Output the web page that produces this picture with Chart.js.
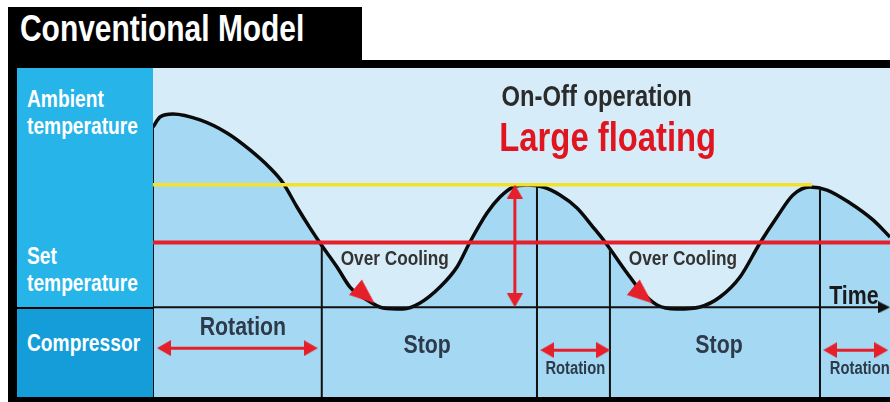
<!DOCTYPE html>
<html>
<head>
<meta charset="utf-8">
<script src="https://cdn.jsdelivr.net/npm/chart.js@4/dist/chart.umd.min.js"></script>
<style>
    html, body { margin: 0; padding: 0; background: #fff; }
    body { width: 890px; height: 402px; position: relative; overflow: hidden;
           font-family: "Liberation Sans", Arial, sans-serif; font-weight: bold; }
    .blk { position: absolute; background: #000; }
    .title { position: absolute; left: 20px; top: 11px; color: #fff; font-size: 36.5px; line-height: 36px;
             white-space: nowrap; transform: scaleX(0.82); transform-origin: left top; }
    .col { position: absolute; left: 17px; top: 68px; width: 136px; height: 329px; background: #27b4e9; }
    .col-comp { position: absolute; left: 17px; top: 307px; width: 136px; height: 90px; background: #149dd8; border-top: 2px solid #000; box-sizing: border-box; }
    .lbl { position: absolute; left: 27px; color: #fff; font-size: 24px; line-height: 27px; white-space: nowrap;
           transform: scaleX(0.8); transform-origin: left top; }
    #wrap { position: absolute; left: 153px; top: 68px; width: 737px; height: 329px; }
</style>
</head>
<body>
<div class="blk" style="left:8px;top:7px;width:354px;height:61px;"></div>
<div class="blk" style="left:8px;top:60px;width:882px;height:8px;"></div>
<div class="blk" style="left:8px;top:60px;width:9px;height:342px;"></div>
<div class="blk" style="left:8px;top:397px;width:882px;height:5px;"></div>
<div class="title">Conventional Model</div>
<div class="col"></div>
<div class="col-comp"></div>
<div class="lbl" style="top:85px;">Ambient<br>temperature</div>
<div class="lbl" style="top:242px;">Set<br>temperature</div>
<div class="lbl" style="top:329px;">Compressor</div>
<div id="wrap"><canvas id="chart"></canvas></div>
<script>
// ---------- Data ----------
// time (0..100) and room temperature
const timeX = [0, 0.95, 2.71, 6.38, 10.04, 13.16, 15.88, 17.64, 19.54, 21.30, 22.66, 24.97, 26.73, 29.04, 31.21, 33.92, 36.23, 38.94, 41.25, 43.01, 45.32, 47.08, 48.85, 50.75, 52.92, 55.22, 57.53, 59.70, 61.33, 64.32, 66.08, 68.39, 71.10, 74.22, 76.93, 79.65, 82.36, 84.67, 86.84, 89.14, 91.45, 94.57, 97.69, 100];
const temp = [18.07, 19.09, 19.39, 18.79, 17.48, 15.78, 13.97, 12.47, 10.06, 7.96, 6.45, 4.04, 2.03, 0.73, -0.07, -0.17, 0.43, 2.03, 4.04, 6.55, 9.46, 11.06, 12.06, 12.26, 12.06, 11.26, 9.96, 8.05, 6.55, 3.44, 1.74, 0.23, -0.17, 0.03, 1.03, 3.04, 6.45, 9.06, 11.26, 12.06, 11.76, 10.46, 8.76, 7.05];

const setTemp = 6.5;          // red line
const upperTemp = 12.3;       // yellow line (peak of floating)
const upperEnd = 89.4;
const rowBottom = -9;         // bottom of compressor row

// vertical dividers: [time, top temp]
const dividerX = [0, 22.9, 52.1, 62.0, 90.5];
const dividerTop = [18.07, 6.5, 12.1, 6.0, 11.8];

// compressor "Rotation" spans (double arrows)
const rotStart = [1.5, 53.5, 91.9];
const rotEnd = [21.4, 61.1, 98.8];
const rotLevel = [-4.1, -4.3, -4.3];

// floating range arrow
const floatX = 49.1;
const floatLow = 0.7;
const floatHigh = 11.6;

// over-cooling arrow heads
const coolX = [28.77, 66.46];
const coolY = [1.2, 1.2];

const labels = [
    { text: 'On-Off operation', x: 60.2, y: 21.0, size: 29, color: '#2b2b2b' },
    { text: 'Large floating', x: 61.7, y: 16.8, size: 40, color: '#e0151f' },
    { text: 'Over Cooling', x: 32.8, y: 4.85, size: 21, color: '#333' },
    { text: 'Over Cooling', x: 71.9, y: 4.85, size: 21, color: '#333' },
    { text: 'Rotation', x: 12.2, y: -2.1, size: 26, color: '#2d3a4a' },
    { text: 'Stop', x: 37.2, y: -3.9, size: 26, color: '#2d3a4a' },
    { text: 'Stop', x: 76.8, y: -3.9, size: 26, color: '#2d3a4a' },
    { text: 'Rotation', x: 57.3, y: -6.2, size: 18, color: '#2d3a4a' },
    { text: 'Rotation', x: 95.9, y: -6.2, size: 18, color: '#2d3a4a' },
    { text: 'Time', x: 95.1, y: 1.05, size: 26, color: '#1a1a1a' },
];

const RED = '#e5202a';
const FONT = '"Liberation Sans", Arial, sans-serif';
const NARROW = 0.82;

// arrow head image pointing right, used as a point style
function arrowHead(len, wide, color) {
    const c = document.createElement('canvas');
    c.width = len; c.height = wide;
    const g = c.getContext('2d');
    g.fillStyle = color;
    g.beginPath();
    g.moveTo(0, 0); g.lineTo(len, wide / 2); g.lineTo(0, wide);
    g.closePath();
    g.fill();
    return c;
}
const smallHead = arrowHead(14, 16, RED);
const bigHead = arrowHead(25, 20, RED);
const axisHead = arrowHead(12, 12, '#111');

// ---------- Datasets ----------
// lower "order" is drawn on top
const pts = (xs, ys) => xs.map((x, i) => ({ x, y: ys[i] }));

const datasets = [];

// temperature curve
datasets.push({
    order: 9,
    data: pts(timeX, temp),
    borderColor: '#0a0a0a', borderWidth: 3.5,
    backgroundColor: '#a5d8f2', fill: 'origin',
    cubicInterpolationMode: 'monotone', pointRadius: 0,
});

// divider lines
dividerX.forEach((x, i) => {
    datasets.push({
        order: 8,
        data: [{ x, y: dividerTop[i] }, { x, y: rowBottom }],
        borderColor: '#111', borderWidth: 2, pointRadius: 0,
    });
});

// time axis with arrow head
datasets.push({
    order: 7,
    data: [{ x: 0, y: 0 }, { x: 99.2, y: 0 }],
    borderColor: '#111', borderWidth: 2,
    pointStyle: axisHead, pointRadius: [0, 6], pointRotation: 0,
});

// yellow upper line and red set line
datasets.push({
    order: 6,
    data: [{ x: 0, y: upperTemp }, { x: upperEnd, y: upperTemp }],
    borderColor: '#f3e22c', borderWidth: 3.5, pointRadius: 0,
});
datasets.push({
    order: 5,
    data: [{ x: 0, y: setTemp }, { x: 100, y: setTemp }],
    borderColor: RED, borderWidth: 4, pointRadius: 0,
});

// red double arrows
const arrowStyle = {
    order: 1,
    borderColor: RED, borderWidth: 3, pointStyle: smallHead, pointRadius: 7,
};
rotStart.forEach((x0, i) => {
    datasets.push({
        ...arrowStyle,
        data: [{ x: x0, y: rotLevel[i] }, { x: rotEnd[i], y: rotLevel[i] }],
        pointRotation: [180, 0],
    });
});
datasets.push({
    ...arrowStyle,
    data: [{ x: floatX, y: floatLow }, { x: floatX, y: floatHigh }],
    pointRotation: [90, 270],
});

// over-cooling arrow heads
datasets.push({
    order: 1,
    data: pts(coolX, coolY),
    showLine: false, pointStyle: bigHead, pointRadius: 10, pointRotation: 40,
});

// ---------- Plugins ----------
const background = {
    id: 'background',
    beforeDraw(chart) {
        const { ctx, chartArea: a, scales: { y } } = chart;
        const y0 = y.getPixelForValue(0);
        ctx.save();
        ctx.fillStyle = '#d6edf9';
        ctx.fillRect(a.left, a.top, a.width, y0 - a.top);
        ctx.fillStyle = '#a5d8f2';
        ctx.fillRect(a.left, y0, a.width, a.bottom - y0);
        ctx.restore();
    },
};

const textLabels = {
    id: 'textLabels',
    afterDatasetsDraw(chart) {
        const { ctx, scales: { x, y } } = chart;
        ctx.textAlign = 'center';
        ctx.textBaseline = 'middle';
        labels.forEach(l => {
            ctx.save();
            ctx.translate(x.getPixelForValue(l.x), y.getPixelForValue(l.y));
            ctx.scale(NARROW, 1);
            ctx.font = `bold ${l.size}px ${FONT}`;
            ctx.fillStyle = l.color;
            ctx.fillText(l.text, 0, 0);
            ctx.restore();
        });
    },
};

new Chart(document.getElementById('chart'), {
    type: 'line',
    data: { datasets },
    options: {
        responsive: true,
        maintainAspectRatio: false,
        animation: false,
        layout: { padding: 0, autoPadding: false },
        scales: {
            x: { type: 'linear', min: 0, max: 100, display: false },
            y: { type: 'linear', min: rowBottom, max: 24, display: false },
        },
        plugins: { legend: { display: false }, tooltip: { enabled: false } },
    },
    plugins: [background, textLabels],
});
</script>
</body>
</html>
